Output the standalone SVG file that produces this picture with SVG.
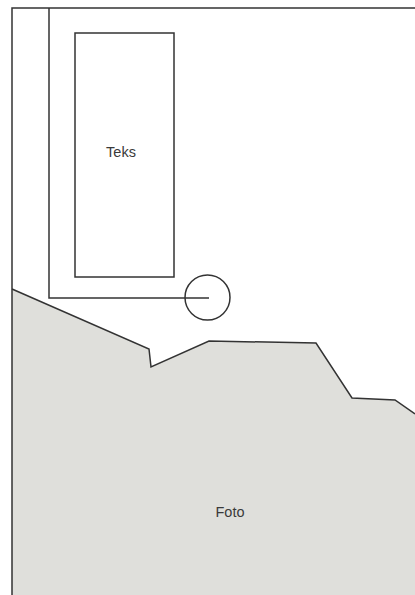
<svg xmlns="http://www.w3.org/2000/svg" width="415" height="595" viewBox="0 0 415 595">
<style>
.ln{fill:none;stroke:#333;stroke-width:1.5}
.lbl{font-family:"Liberation Sans",Arial,sans-serif;font-size:14.5px;fill:#3a3a3a;text-anchor:middle}
</style>
<rect width="415" height="595" fill="#fff"/>
<g id="foto">
<polygon points="12,289 149,349 151,367 209,341 316,343 352,398 395,400 415,414 415,595 12,595" fill="#dfdfdb" stroke="none"/>
<polyline class="ln" points="12,289 149,349 151,367 209,341 316,343 352,398 395,400 415,414"/>
<text class="lbl" x="230" y="517">Foto</text>
</g>
<g id="frame">
<polyline class="ln" points="12,595 12,8 415,8"/>
</g>
<g id="teks">
<rect class="ln" x="75" y="33" width="99" height="244"/>
<text class="lbl" x="121" y="157">Teks</text>
</g>
<g id="marker-circle">
<circle class="ln" cx="207.5" cy="297.5" r="22.5"/>
</g>
<g id="connectors">
<polyline class="ln" points="49,8 49,298 209,298"/>
</g>
</svg>
